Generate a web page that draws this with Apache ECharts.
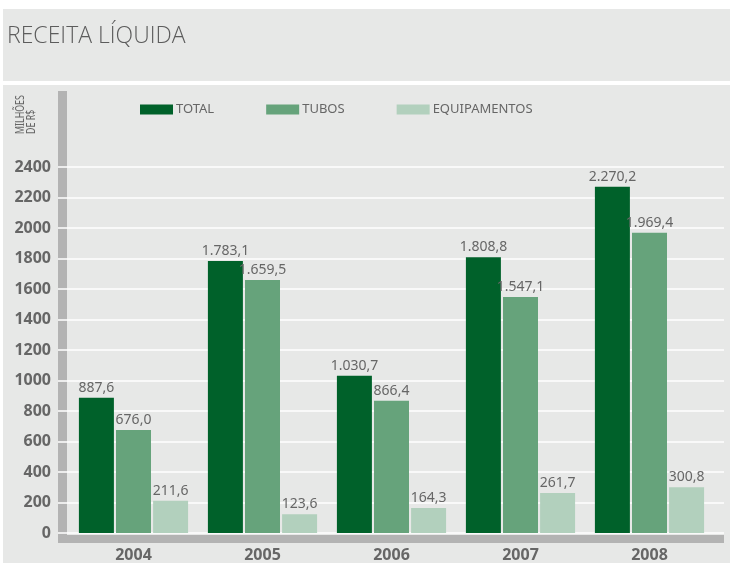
<!DOCTYPE html>
<html>
<head>
<meta charset="utf-8">
<script src="https://cdn.jsdelivr.net/npm/echarts@6/dist/echarts.min.js"></script>
<style>
  html, body { margin: 0; padding: 0; background: #fff; }
  #chart { width: 733px; height: 563px; }
</style>
</head>
<body>
<div id="chart"></div>
<script>
  // data (values from the printed labels)
  const years = ['2004', '2005', '2006', '2007', '2008'];
  const total = [887.6, 1783.1, 1030.7, 1808.8, 2270.2];
  const tubos = [676.0, 1659.5, 866.4, 1547.1, 1969.4];
  const equipamentos = [211.6, 123.6, 164.3, 261.7, 300.8];
  const seriesNames = ['TOTAL', 'TUBOS', 'EQUIPAMENTOS'];

  const colors = ['#00612a', '#66a37b', '#b2d0bd'];
  const grayText = '#666666';
  const panel = '#e7e8e7';

  // 1783.1 -> "1.783,1"
  function fmt(v) {
    const parts = v.toFixed(1).split('.');
    return parts[0].replace(/\B(?=(\d{3})+(?!\d))/g, '.') + ',' + parts[1];
  }

  function barSeries(name, data, color) {
    return {
      name: name,
      type: 'bar',
      xAxisIndex: 1,
      yAxisIndex: 1,
      data: data,
      barWidth: 35,
      barGap: '6%',
      itemStyle: { color: color },
      label: {
        show: true,
        position: 'top',
        distance: 3,
        color: grayText,
        fontFamily: 'Noto Sans',
        fontSize: 14,
        formatter: p => fmt(p.value)
      }
    };
  }

  const chart = echarts.init(document.getElementById('chart'));
  const option = {
    backgroundColor: '#ffffff',
    animation: false,
    graphic: [
      { type: 'rect', z: -20, shape: { x: 3, y: 9, width: 727, height: 72 }, style: { fill: panel } },
      { type: 'rect', z: -20, shape: { x: 3, y: 85, width: 727, height: 478 }, style: { fill: panel } },
      { type: 'rect', z: -5, shape: { x: 58, y: 91, width: 9, height: 452 }, style: { fill: '#b3b3b3' } },
      { type: 'rect', z: -5, shape: { x: 58, y: 535, width: 666, height: 8 }, style: { fill: '#b3b3b3' } },
      {
        type: 'text', x: 7, y: 36, z: 10,
        style: {
          text: 'RECEITA LÍQUIDA', fill: '#5c5c5c',
          font: '300 23px "Open Sans", "Noto Sans", sans-serif',
          textVerticalAlign: 'middle'
        }
      },
      {
        type: 'text', x: 26, y: 134, rotation: Math.PI / 2, scaleX: 0.68, z: 10,
        style: {
          text: 'MILHÕES\nDE R$', fill: grayText,
          font: '13px "Noto Sans", sans-serif',
          lineHeight: 11,
          textAlign: 'left', textVerticalAlign: 'middle'
        }
      }
    ],
    legend: {
      left: 140,
      top: 103,
      padding: 0,
      itemWidth: 33,
      itemHeight: 10,
      itemGap: 52,
      icon: 'rect',
      textStyle: { color: grayText, fontFamily: 'Noto Sans', fontSize: 13, padding: [0, 0, 0, -2] },
      data: seriesNames
    },
    grid: [
      { left: 58, right: 9, top: 167, bottom: 30 },
      { left: 69, right: 19, top: 167, bottom: 30 }
    ],
    xAxis: [
      { type: 'category', gridIndex: 0, data: years, show: false },
      {
        type: 'category', gridIndex: 1, data: years,
        axisLine: { show: false },
        axisTick: { show: false },
        axisLabel: { color: grayText, fontFamily: 'Noto Sans', fontWeight: 'bold', fontSize: 16, margin: 14 }
      }
    ],
    yAxis: [
      {
        type: 'value', gridIndex: 0, min: 0, max: 2400, interval: 200,
        axisLine: { show: false },
        axisTick: { show: false },
        axisLabel: {
          color: grayText, fontFamily: 'Noto Sans', fontWeight: 'bold', fontSize: 16, margin: 7,
          formatter: v => String(v)
        },
        splitLine: { show: true, lineStyle: { color: '#ffffff', width: 1.5 } }
      },
      {
        type: 'value', gridIndex: 1, min: 0, max: 2400, interval: 200,
        show: false,
        splitLine: { show: false }
      }
    ],
    series: [
      barSeries(seriesNames[0], total, colors[0]),
      barSeries(seriesNames[1], tubos, colors[1]),
      barSeries(seriesNames[2], equipamentos, colors[2])
    ]
  };
  chart.setOption(option);
</script>
</body>
</html>
